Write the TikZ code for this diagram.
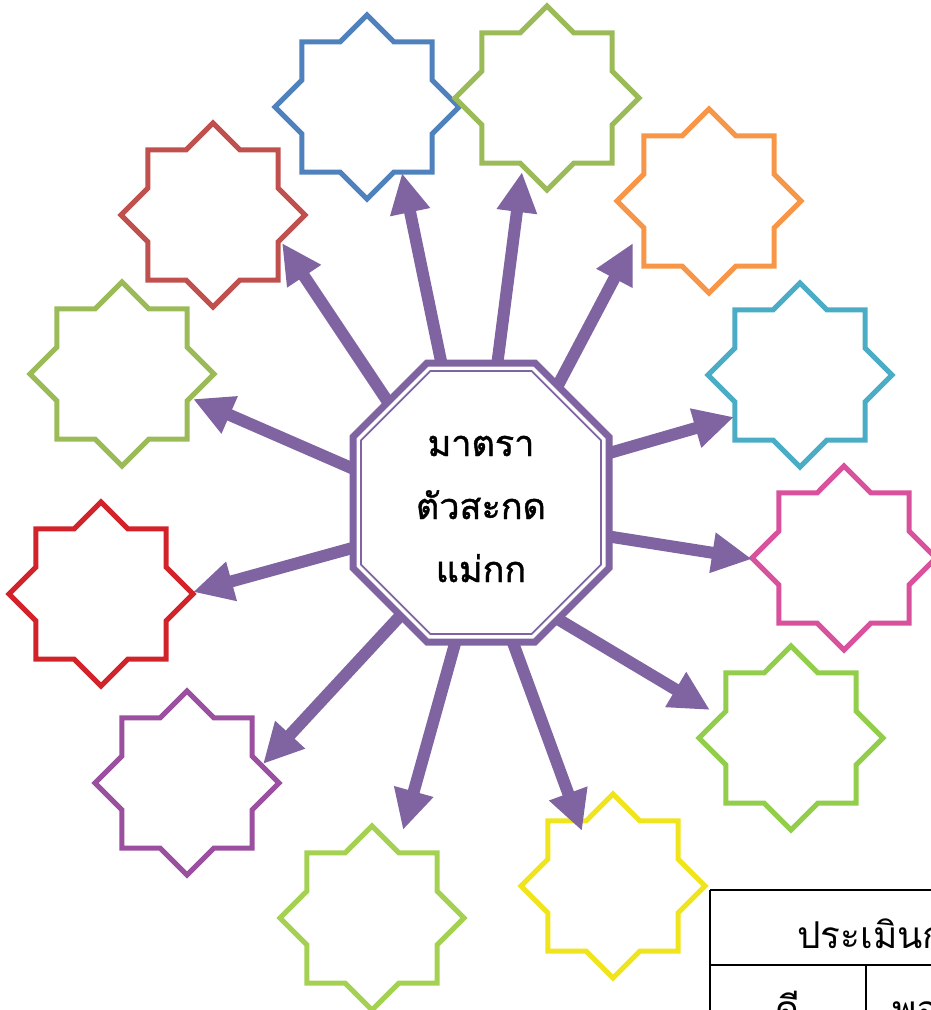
\documentclass[tikz,border=0pt]{standalone}
\usepackage{fontspec}
\newfontfamily\thaifont[Script=Thai]{Loma}
\newfontfamily\thaiboldish[Script=Thai,FakeBold=1.2]{Loma}
\usetikzlibrary{arrows.meta}
\definecolor{arrowpurple}{HTML}{8064A2}
\definecolor{sblue}{HTML}{4F81BD}
\definecolor{sgreen}{HTML}{9BBB59}
\definecolor{sorange}{HTML}{F79646}
\definecolor{sred}{HTML}{C0504D}
\definecolor{steal}{HTML}{4BACC6}
\definecolor{spink}{HTML}{D9519D}
\definecolor{sbrightred}{HTML}{D2232A}
\definecolor{slime}{HTML}{92CD4C}
\definecolor{spurple}{HTML}{9B4F9F}
\definecolor{slightgreen}{HTML}{A4D152}
\definecolor{syellow}{HTML}{F0E51C}
\def\Ro{92}
\def\Ri{70.4}
\newcommand{\octostar}[4]{%
  \coordinate (#1) at (#2,#3);
  \draw[starline,#4] (#1) +(0:\Ro) -- +(22.5:\Ri) -- +(45:\Ro) -- +(67.5:\Ri) -- +(90:\Ro) -- +(112.5:\Ri) -- +(135:\Ro) -- +(157.5:\Ri) -- +(180:\Ro) -- +(202.5:\Ri) -- +(225:\Ro) -- +(247.5:\Ri) -- +(270:\Ro) -- +(292.5:\Ri) -- +(315:\Ro) -- +(337.5:\Ri) -- cycle;}
\begin{document}
\begin{tikzpicture}[x=1pt,y=-1pt,
  starline/.style={line width=5pt, line join=miter},
  arr/.style={line width=12pt, draw=arrowpurple, -{Triangle[length=40pt,width=38pt]}},
  tableline/.style={line width=2pt, black},
  thaitext/.style={font=\thaiboldish\fontsize{36}{63}\selectfont, align=center, inner sep=0pt},
  tabletext/.style={font=\thaifont\fontsize{37}{46}\selectfont, inner sep=0pt}]
\useasboundingbox (0,0) rectangle (931,1010);

% stars
\octostar{sBlue}{367}{107}{sblue}
\octostar{sGreenTop}{547}{98}{sgreen}
\octostar{sOrange}{709}{201}{sorange}
\octostar{sRedTL}{213}{215}{sred}
\octostar{sTeal}{800}{375}{steal}
\octostar{sGreenL}{122}{374}{sgreen}
\octostar{sPink}{844}{558}{spink}
\octostar{sRedL}{101}{594}{sbrightred}
\octostar{sLime}{791}{738}{slime}
\octostar{sPurple}{187}{783}{spurple}
\octostar{sGreenB}{372}{918}{slightgreen}
\octostar{sYellow}{613}{886}{syellow}

% arrow start and tip coordinates
\coordinate (a1) at (442,366); \coordinate (b1) at (402,173);
\coordinate (a2) at (497,366); \coordinate (b2) at (522,172);
\coordinate (a3) at (556,389); \coordinate (b3) at (633,243);
\coordinate (a4) at (390,405); \coordinate (b4) at (282,243);
\coordinate (a5) at (606,454); \coordinate (b5) at (734,417);
\coordinate (a6) at (356,470); \coordinate (b6) at (193,399);
\coordinate (a7) at (606,536); \coordinate (b7) at (752,559);
\coordinate (a8) at (356,547); \coordinate (b8) at (193,592);
\coordinate (a9) at (556,618); \coordinate (b9) at (710,710);
\coordinate (a10) at (401,615); \coordinate (b10) at (263,764);
\coordinate (a11) at (456,640); \coordinate (b11) at (403,830);
\coordinate (a12) at (512,640); \coordinate (b12) at (582,831);
\foreach \i in {1,...,12} { \draw[arr] (a\i) -- (b\i); }

% central octagon
\draw[line width=7pt, arrowpurple, fill=white, line join=miter]
  (427,363) -- (535,363) -- (609,437) -- (609,568) -- (535,642) -- (427,642) -- (353,568) -- (353,437) -- cycle;
\draw[line width=1.8pt, arrowpurple, line join=miter]
  (430.3,371) -- (531.7,371) -- (601,440.3) -- (601,564.7) -- (531.7,634) -- (430.3,634) -- (361,564.7) -- (361,440.3) -- cycle;
\node[thaitext] (title) at (481,509) {มาตรา\\ตัวสะกด\\แม่กก};

% evaluation table (cut by the page edge)
\draw[tableline] (710,890) -- (960,890) (710,890) -- (710,1030) (710,965) -- (960,965) (866,965) -- (866,1030);
\node[tabletext, anchor=base west] (evalhead) at (797,948) {ประเมินก};
\node[tabletext, anchor=base] (good) at (788,1022) {ดี};
\node[tabletext, anchor=base west] (fair) at (892,1022) {พอ};
\end{tikzpicture}
\end{document}
